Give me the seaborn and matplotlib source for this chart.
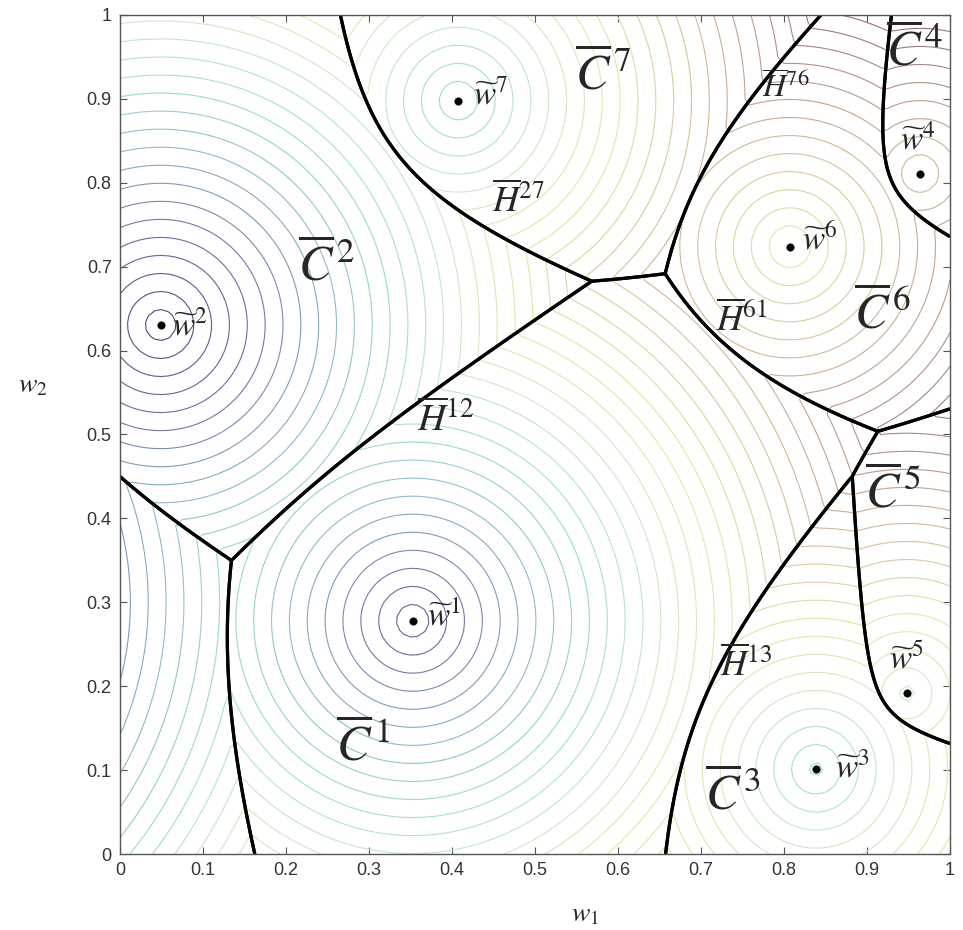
import numpy as np
import matplotlib
matplotlib.use("Agg")
import matplotlib.pyplot as plt
import seaborn as sns
from matplotlib.colors import LinearSegmentedColormap, Normalize

# ---- data ----
site_labels = ["1", "2", "3", "4", "5", "6", "7"]
site_x = [0.3526, 0.049, 0.8386, 0.964, 0.948, 0.807, 0.4076]
site_y = [0.278, 0.6305, 0.101, 0.811, 0.1915, 0.7238, 0.8979]
site_offset = [0.0, -0.0634, 0.205, 0.47, 0.29, 0.36, 0.19]
# a site outside the window that owns the lower-left cell
hidden_x = [-0.35]
hidden_y = [0.30]
hidden_offset = [-0.257]

level_lo, level_hi, level_step = -0.045, 0.70, 0.0215

w_label_x = [0.370, 0.063, 0.862, 0.940, 0.926, 0.822, 0.425]
w_label_y = [0.283, 0.630, 0.103, 0.852, 0.232, 0.733, 0.905]

c_label_x = [0.260, 0.215, 0.705, 0.923, 0.898, 0.884, 0.548]
c_label_y = [0.130, 0.702, 0.072, 0.958, 0.432, 0.645, 0.930]

h_names = ["12", "13", "27", "61", "76"]
h_label_x = [0.358, 0.723, 0.448, 0.718, 0.773]
h_label_y = [0.517, 0.226, 0.778, 0.636, 0.912]
h_sizes = [28, 26, 26, 26, 23]

ticks = [0, 0.1, 0.2, 0.3, 0.4, 0.5, 0.6, 0.7, 0.8, 0.9, 1]
tick_text = ["0", "0.1", "0.2", "0.3", "0.4", "0.5", "0.6", "0.7", "0.8", "0.9", "1"]

# ---- style ----
sns.set_theme(style="white")
plt.rcParams['font.family'] = ['Liberation Sans', 'DejaVu Sans']
plt.rcParams['mathtext.fontset'] = 'stix'

cmap = LinearSegmentedColormap.from_list(
    "pale_jet",
    [(0.00, "#4a4a7c"), (0.14, "#6e72a0"), (0.28, "#8cbccc"), (0.38, "#9adeda"),
     (0.49, "#cdeac4"), (0.60, "#e8e6a4"), (0.73, "#dac498"), (0.86, "#bc9888"),
     (1.00, "#90687e")])
norm = Normalize(-0.05, 0.66)

fig = plt.figure(figsize=(9.63, 9.3), dpi=100)
ax = fig.add_axes([0.1246, 0.0817, 0.8619, 0.9022])

all_x = np.array(site_x + hidden_x)
all_y = np.array(site_y + hidden_y)
all_off = np.array(site_offset + hidden_offset)


def field(n):
    g = np.linspace(0, 1, n)
    X, Y = np.meshgrid(g, g)
    F = np.stack([o + np.hypot(X - sx, Y - sy) for sx, sy, o in zip(all_x, all_y, all_off)])
    return X, Y, F


# contour lines of the weighted distance
Xc, Yc, Fc = field(121)
fmin = Fc.min(axis=0)
levels = np.arange(level_lo, level_hi, level_step)
ax.contour(Xc, Yc, fmin, levels=levels, cmap=cmap, norm=norm, linewidths=0.8)

# cell boundaries
Xf, Yf, Ff = field(700)
for i in range(len(all_x)):
    others = np.delete(Ff, i, axis=0).min(axis=0)
    ax.contour(Xf, Yf, Ff[i] - others, levels=[0], colors="black", linewidths=2.3)

# sites
sns.scatterplot(x=site_x, y=site_y, color="black", s=28, edgecolor="black",
                linewidth=0.5, ax=ax, zorder=6, legend=False)

for lab, tx, ty in zip(site_labels, w_label_x, w_label_y):
    ax.text(tx, ty, r"$\widetilde{w}^{%s}$" % lab, fontsize=24, ha="left", va="center", zorder=7)
for lab, tx, ty in zip(site_labels, c_label_x, c_label_y):
    ax.text(tx, ty, r"$\overline{C}^{\,%s}$" % lab, fontsize=36, ha="left", va="center", zorder=7)
for lab, tx, ty, fs in zip(h_names, h_label_x, h_label_y, h_sizes):
    ax.text(tx, ty, r"$\overline{H}^{%s}$" % lab, fontsize=fs, ha="left", va="center", zorder=7)

ax.set_xlim(0, 1)
ax.set_ylim(0, 1)
ax.set_xticks(ticks)
ax.set_yticks(ticks)
ax.set_xticklabels(tick_text)
ax.set_yticklabels(tick_text)
ax.tick_params(direction="in", length=5, width=0.8, colors="#555555", labelcolor="#333333",
               labelsize=13, top=True, right=True, bottom=True, left=True, pad=6)
for s in ax.spines.values():
    s.set_color("#555555")
    s.set_linewidth(1.0)
    s.set_visible(True)

ax.text(0.56, -0.072, r"$w_1$", transform=ax.transAxes, fontsize=20, ha="center", va="center")
ax.text(-0.105, 0.559, r"$w_2$", transform=ax.transAxes, fontsize=20, ha="center", va="center")

fig.savefig("out.png", dpi=100, facecolor="white")
